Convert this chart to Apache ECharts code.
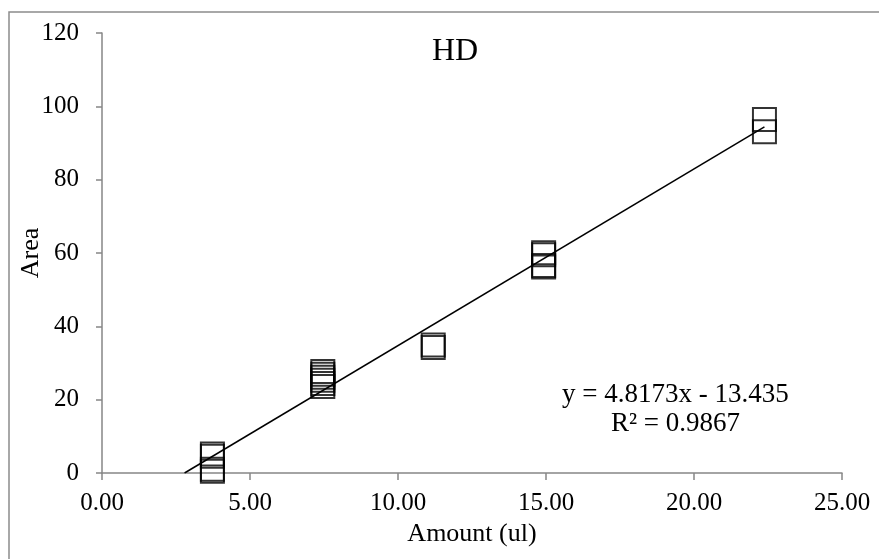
<!DOCTYPE html>
<html>
<head>
<meta charset="utf-8">
<script src="https://cdn.jsdelivr.net/npm/echarts@6/dist/echarts.min.js"></script>
<style>html,body{margin:0;padding:0;background:#fff;}#c{width:879px;height:559px;}</style>
</head>
<body>
<div id="c"></div>
<script>
// ---- data ----
const xAmounts = [3.73, 7.46, 11.19, 14.92, 22.38];
const areaAt373 = [5.2, 4.6, 1.0, 0.5];
const areaAt746 = [27.7, 26.9, 26.1, 25.3, 24.4, 23.6];
const areaAt1119 = [34.9, 34.2];
const areaAt1492 = [60.1, 59.5, 56.6, 56.2];
const areaAt2238 = [96.4, 93.1];
const slope = 4.8173;
const intercept = -13.435;
const xTicks = [0, 5, 10, 15, 20, 25];
const yTicks = [0, 20, 40, 60, 80, 100, 120];
const chartTitle = 'HD';
const xTitle = 'Amount (ul)';
const yTitle = 'Area';
const eqText = 'y = 4.8173x - 13.435';
const r2Text = 'R² = 0.9867';

const groups = [areaAt373, areaAt746, areaAt1119, areaAt1492, areaAt2238];
const points = [];
groups.forEach((g, i) => g.forEach(v => points.push([xAmounts[i], v])));
const xStart = -intercept / slope;
const xEnd = xAmounts[xAmounts.length - 1];
const trend = [[xStart, slope * xStart + intercept], [xEnd, slope * xEnd + intercept]];

const font = '"Liberation Serif", "Times New Roman", serif';
const axisCol = '#868686';
const chart = echarts.init(document.getElementById('c'));
chart.setOption({
  animation: false,
  backgroundColor: '#fff',
  title: {
    text: chartTitle, left: 450, top: 31, textAlign: 'center',
    textStyle: { fontFamily: font, fontSize: 32, fontWeight: 'normal', color: '#000' }
  },
  grid: { left: 102, right: 37, top: 33, bottom: 86 },
  xAxis: {
    type: 'value', min: xTicks[0], max: xTicks[xTicks.length - 1], interval: 5,
    name: xTitle, nameLocation: 'middle', nameGap: 48,
    nameTextStyle: { fontFamily: font, fontSize: 26, color: '#000' },
    axisLine: { lineStyle: { color: axisCol, width: 1.5 } },
    axisTick: { show: true, length: 7, lineStyle: { color: axisCol, width: 1.5 } },
    axisLabel: { fontFamily: font, fontSize: 25, color: '#000', margin: 18, formatter: v => v.toFixed(2) },
    splitLine: { show: false }
  },
  yAxis: {
    type: 'value', min: yTicks[0], max: yTicks[yTicks.length - 1], interval: 20,
    name: yTitle, nameLocation: 'middle', nameGap: 58, nameRotate: 90, nameMoveOverlap: false,
    nameTextStyle: { fontFamily: font, fontSize: 26, color: '#000' },
    axisLine: { show: true, lineStyle: { color: axisCol, width: 1.5 } },
    axisTick: { show: true, length: 6, lineStyle: { color: axisCol, width: 1.5 } },
    axisLabel: { fontFamily: font, fontSize: 25, color: '#000', margin: 23 },
    splitLine: { show: false }
  },
  graphic: [
    { type: 'rect', silent: true, z: -1, shape: { x: 9, y: 12, width: 880, height: 560 },
      style: { fill: 'none', stroke: '#8c8c8c', lineWidth: 1.5 } },
    { type: 'text', left: 562, top: 381,
      style: { text: eqText, font: '27px ' + font, fill: '#000' } },
    { type: 'text', left: 611, top: 410,
      style: { text: r2Text, font: '27px ' + font, fill: '#000' } }
  ],
  series: [
    { type: 'line', data: trend, symbol: 'none', lineStyle: { color: '#000', width: 1.5 }, z: 2 },
    { type: 'scatter', data: points, symbol: 'rect', symbolSize: 23,
      itemStyle: { color: 'rgba(0,0,0,0)', borderColor: '#000', borderWidth: 2 }, z: 3 }
  ]
});
</script>
</body>
</html>
